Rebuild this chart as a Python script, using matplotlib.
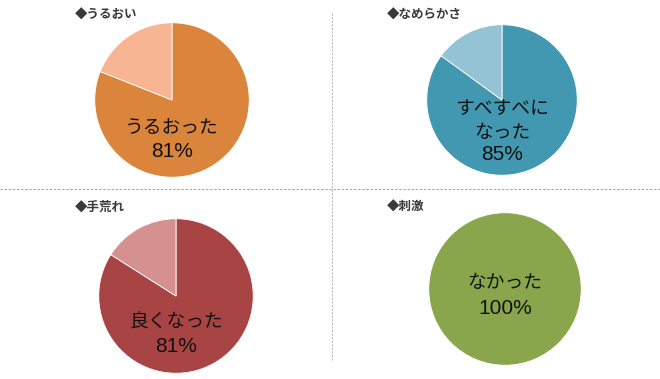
import matplotlib
matplotlib.use("Agg")
import matplotlib.pyplot as plt
from matplotlib.lines import Line2D

plt.rcParams['font.family'] = ['Noto Sans CJK JP', 'DejaVu Sans']

W, H = 660, 379

# chart data
titles = ["◆うるおい", "◆なめらかさ", "◆手荒れ", "◆刺激"]
answers = ["うるおった", "すべすべに\nなった", "良くなった", "なかった"]
percents = ["81%", "85%", "81%", "100%"]
main_values = [81, 85, 84, 100]
rest_values = [19, 15, 16, 0]
main_colors = ["#da843c", "#4298b0", "#a84443", "#8aa64c"]
rest_colors = ["#f8b594", "#93c3d5", "#d59190", "#c4d5a0"]

# layout in pixels: pie centre, radius; label offsets in pie radius units
centers = [(172, 100), (502, 100), (176, 296), (505, 289)]
radii = [78, 76, 78, 77]
answer_y = [-0.35, -0.27, -0.34, 0.08]
percent_y = [-0.67, -0.72, -0.65, -0.25]
title_pos = [(75, 15), (387, 15), (75, 207), (387, 207)]

fig = plt.figure(figsize=(W / 100, H / 100), dpi=100)
fig.patch.set_facecolor('white')

for i in range(4):
    cx, cy = centers[i]
    r = radii[i]
    ax = fig.add_axes([(cx - r) / W, (H - cy - r) / H, 2 * r / W, 2 * r / H])
    vals = [main_values[i], rest_values[i]]
    cols = [main_colors[i], rest_colors[i]]
    if rest_values[i] == 0:
        vals, cols = vals[:1], cols[:1]
    ax.pie(vals, colors=cols, startangle=90, counterclock=False, radius=1,
           wedgeprops=dict(edgecolor='white', linewidth=0.6))
    ax.set_xlim(-1.01, 1.01)
    ax.set_ylim(-1.01, 1.01)
    ax.text(0, answer_y[i], answers[i], ha='center', va='center', fontsize=13.5,
            color='#111111', linespacing=1.15)
    ax.text(0, percent_y[i], percents[i], ha='center', va='center', fontsize=15,
            color='#111111', family=['Liberation Sans', 'DejaVu Sans'])
    tx, ty = title_pos[i]
    fig.text(tx / W, 1 - ty / H, titles[i], ha='left', va='center',
             fontsize=9, fontweight='bold', color='#3a3a3a')

# dashed separators
fig.add_artist(Line2D([0, 1], [1 - 188.5 / H, 1 - 188.5 / H], transform=fig.transFigure,
                      color='#a8a8a8', linewidth=0.8, linestyle=(0, (2.2, 1.5))))
fig.add_artist(Line2D([332 / W, 332 / W], [1 - 13 / H, 1 - 360 / H], transform=fig.transFigure,
                      color='#b4b4b4', linewidth=0.7, linestyle=(0, (2.2, 1.5))))

fig.savefig("out.png", dpi=100, facecolor='white')
